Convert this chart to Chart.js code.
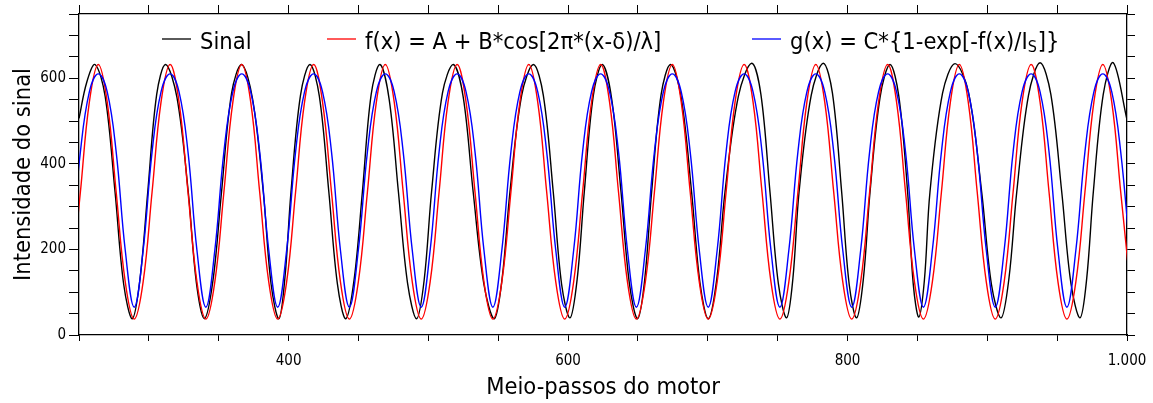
<!DOCTYPE html>
<html lang="pt-BR">
<head>
<meta charset="utf-8">
<title>Sinal e ajustes</title>
<script src="https://cdn.jsdelivr.net/npm/chart.js@4.4.1/dist/chart.umd.min.js"></script>
<style>
  html, body { margin: 0; padding: 0; background: #fff; }
  #wrap { width: 1153px; height: 403px; position: relative; }
</style>
</head>
<body>
<div id="wrap"><canvas id="grafico"></canvas></div>
<script>
const sinalX = [
  250, 255.5, 261.5, 268.7, 275.8, 282, 288.2, 293.7, 299.2, 305.6, 312, 320.1,
  328.2, 334, 339.7, 345.9, 352, 359.2, 366.4, 374.2, 381.9, 387.5, 393.1, 397.4,
  401.7, 408.5, 415.3, 422, 428.8, 434.9, 440.9, 446.9, 452.8, 459.1, 465.4, 472,
  478.6, 485.1, 491.6, 497, 502.3, 510.1, 517.9, 525, 532.1, 539.7, 547.2, 552.8,
  558.4, 566.8, 575.2, 582.3, 589.4, 595.4, 601.4, 606.5, 611.6, 618, 624.5, 631.2,
  637.9, 643.9, 649.8, 654.8, 659.8, 666.6, 673.4, 680.9, 688.4, 694.4, 700.4, 706.4,
  712.3, 721.9, 731.4, 738, 744.5, 750.5, 756.4, 760.9, 765.3, 774, 782.6, 789.2,
  795.8, 801.2, 806.5, 811.3, 816.1, 823.3, 830.4, 836.7, 843, 847, 851, 855,
  859, 868, 876.9, 886.5, 896, 903, 909.9, 915.5, 921.1, 929.5, 937.8, 945.5,
  953.3, 959.9, 966.4, 971.1, 975.9, 983, 990.2, 1000
];
const sinalY = [
  506, 590, 632, 558, 334, 118, 38, 132, 334, 562, 632, 555,
  334, 122, 38, 128, 334, 565, 632, 552, 334, 118, 38, 135,
  334, 560, 632, 558, 334, 120, 38, 130, 334, 562, 632, 550,
  334, 122, 38, 128, 334, 565, 632, 555, 334, 120, 38, 132,
  334, 560, 632, 560, 334, 118, 40, 130, 334, 558, 632, 552,
  334, 120, 38, 128, 334, 562, 632, 556, 334, 122, 38, 130,
  334, 558, 635, 562, 334, 120, 40, 132, 334, 560, 635, 565,
  334, 118, 40, 130, 334, 556, 632, 558, 334, 120, 42, 128,
  334, 565, 634, 568, 334, 118, 40, 132, 334, 560, 636, 562,
  334, 120, 40, 130, 334, 562, 636, 503
];

// curvas ajustadas f(x) e g(x)
const ajusteX = [
  244.5, 251.0, 257.4, 263.8, 270.2, 276.6, 283.1, 289.5,
  295.9, 302.3, 308.7, 315.2, 321.6, 328.0, 334.4, 340.8,
  347.2, 353.7, 360.1, 366.5, 372.9, 379.3, 385.8, 392.2,
  398.6, 405.0, 411.4, 417.9, 424.3, 430.7, 437.1, 443.5,
  449.9, 456.4, 462.8, 469.2, 475.6, 482.0, 488.5, 494.9,
  501.3, 507.7, 514.1, 520.6, 527.0, 533.4, 539.8, 546.2,
  552.6, 559.1, 565.5, 571.9, 578.3, 584.7, 591.2, 597.6,
  604.0, 610.4, 616.8, 623.3, 629.7, 636.1, 642.5, 648.9,
  655.3, 661.8, 668.2, 674.6, 681.0, 687.4, 693.9, 700.3,
  706.7, 713.1, 719.5, 726.0, 732.4, 738.8, 745.2, 751.6,
  758.0, 764.5, 770.9, 777.3, 783.7, 790.1, 796.6, 803.0,
  809.4, 815.8, 822.2, 828.7, 835.1, 841.5, 847.9, 854.3,
  860.7, 867.2, 873.6, 880.0, 886.4, 892.8, 899.3, 905.7,
  912.1, 918.5, 924.9, 931.4, 937.8, 944.2, 950.6, 957.0,
  963.4, 969.9, 976.3, 982.7, 989.1, 995.5, 1002.0
];
const ajusteF = [
  124, 334, 544, 632, 544, 334, 124, 37,
  124, 334, 544, 632, 544, 334, 124, 37,
  124, 334, 544, 632, 544, 334, 124, 37,
  124, 334, 544, 632, 544, 334, 124, 37,
  124, 334, 544, 632, 544, 334, 124, 37,
  124, 334, 544, 632, 544, 334, 124, 37,
  124, 334, 544, 632, 544, 334, 124, 37,
  124, 334, 544, 632, 544, 334, 124, 37,
  124, 334, 544, 632, 544, 334, 124, 37,
  124, 334, 544, 632, 544, 334, 124, 37,
  124, 334, 544, 632, 544, 334, 124, 37,
  124, 334, 544, 632, 544, 334, 124, 37,
  124, 334, 544, 632, 544, 334, 124, 37,
  124, 334, 544, 632, 544, 334, 124, 37,
  124, 334, 544, 632, 544, 334, 124
];
const ajusteG = [
  198, 428, 568, 610, 568, 428, 198, 65,
  198, 428, 568, 610, 568, 428, 198, 65,
  198, 428, 568, 610, 568, 428, 198, 65,
  198, 428, 568, 610, 568, 428, 198, 65,
  198, 428, 568, 610, 568, 428, 198, 65,
  198, 428, 568, 610, 568, 428, 198, 65,
  198, 428, 568, 610, 568, 428, 198, 65,
  198, 428, 568, 610, 568, 428, 198, 65,
  198, 428, 568, 610, 568, 428, 198, 65,
  198, 428, 568, 610, 568, 428, 198, 65,
  198, 428, 568, 610, 568, 428, 198, 65,
  198, 428, 568, 610, 568, 428, 198, 65,
  198, 428, 568, 610, 568, 428, 198, 65,
  198, 428, 568, 610, 568, 428, 198, 65,
  198, 428, 568, 610, 568, 428, 198
];

const legendas = ['Sinal', 'f(x) = A + B*cos[2π*(x-δ)/λ]', 'g(x) = C*{1-exp[-f(x)/I_S]}'];
const cores = ['#000000', '#ff0000', '#0000ff'];
// início de cada item da legenda, medido a partir da borda esquerda do gráfico
const legendaInicio = [83, 248, 673];

const FONTE = "'DejaVu Sans Condensed', 'DejaVu Sans', sans-serif";
Chart.defaults.font.family = FONTE;
Chart.defaults.color = '#000';

function pontos(xs, ys) {
  return xs.map((x, i) => ({ x: x, y: ys[i] }));
}

// 1000 -> "1.000"
function rotulo(v) {
  if (v >= 1000) return Math.floor(v / 1000) + '.' + String(v % 1000).padStart(3, '0');
  return String(v);
}

// legenda dentro da área do gráfico, com subscrito
const legendaInterna = {
  id: 'legendaInterna',
  afterDraw(chart) {
    const ctx = chart.ctx;
    const area = chart.chartArea;
    const yLinha = area.top + 25;
    const yTexto = area.top + 35;
    ctx.save();
    chart.data.datasets.forEach((ds, i) => {
      let x = area.left + legendaInicio[i];
      ctx.strokeStyle = ds.borderColor;
      ctx.lineWidth = 1.3;
      ctx.beginPath();
      ctx.moveTo(x, yLinha);
      ctx.lineTo(x + 29, yLinha);
      ctx.stroke();
      x += 29 + 9;

      ctx.fillStyle = '#000';
      ctx.textBaseline = 'alphabetic';
      ctx.textAlign = 'left';
      const partes = ds.label.split('_');
      ctx.font = '23.5px ' + FONTE;
      ctx.fillText(partes[0], x, yTexto);
      x += ctx.measureText(partes[0]).width;
      if (partes.length > 1) {
        ctx.font = '16px ' + FONTE;
        ctx.fillText(partes[1][0], x, yTexto + 3);
        x += ctx.measureText(partes[1][0]).width + 1;
        ctx.font = '23.5px ' + FONTE;
        ctx.fillText(partes[1].slice(1), x, yTexto);
      }
    });
    ctx.restore();
  }
};

const eixoBorda = { display: true, color: '#000', width: 1.3 };

new Chart(document.getElementById('grafico'), {
  type: 'line',
  data: {
    datasets: [
      { label: legendas[0], data: pontos(sinalX, sinalY), borderColor: cores[0], borderWidth: 1.4, pointRadius: 0, tension: 0.35, order: 3 },
      { label: legendas[1], data: pontos(ajusteX, ajusteF), borderColor: cores[1], borderWidth: 1.4, pointRadius: 0, tension: 0.4, order: 2 },
      { label: legendas[2], data: pontos(ajusteX, ajusteG), borderColor: cores[2], borderWidth: 1.4, pointRadius: 0, tension: 0.4, order: 1 }
    ]
  },
  options: {
    responsive: true,
    maintainAspectRatio: false,
    animation: false,
    layout: { padding: 0 },
    plugins: {
      legend: { display: false },
      tooltip: { enabled: false }
    },
    scales: {
      x: {
        type: 'linear', axis: 'x', position: 'bottom', min: 250, max: 1000,
        ticks: {
          stepSize: 50, autoSkip: false, maxRotation: 0, padding: 11,
          font: { size: 15 },
          callback: v => (v % 200 === 0 ? rotulo(v) : '')
        },
        grid: { drawOnChartArea: false, drawTicks: true, tickLength: 6, color: '#000' },
        border: eixoBorda,
        title: { display: true, text: 'Meio-passos do motor', font: { size: 23.5 }, padding: { top: 0, bottom: 1 } },
        afterFit: s => { s.height = 68; s.paddingLeft = 0; s.paddingRight = 0; }
      },
      xTop: {
        type: 'linear', axis: 'x', position: 'top', min: 250, max: 1000,
        ticks: { stepSize: 50, display: false },
        grid: { drawOnChartArea: false, drawTicks: true, tickLength: 9, color: '#000' },
        border: eixoBorda,
        afterFit: s => { s.height = 14; s.paddingLeft = 0; s.paddingRight = 0; }
      },
      y: {
        type: 'linear', axis: 'y', position: 'left', min: 0, max: 750,
        ticks: {
          stepSize: 50, autoSkip: false, padding: 3,
          font: { size: 15 },
          callback: v => (v % 200 === 0 ? rotulo(v) : '')
        },
        grid: { drawOnChartArea: false, drawTicks: true, tickLength: 10, color: '#000' },
        border: eixoBorda,
        title: { display: true, text: 'Intensidade do sinal', font: { size: 23.5 }, padding: { top: 10, bottom: 0 } },
        afterFit: s => { s.width = 79; s.paddingTop = 0; s.paddingBottom = 0; }
      },
      yRight: {
        type: 'linear', axis: 'y', position: 'right', min: 0, max: 750,
        ticks: { stepSize: 50, display: false },
        grid: { drawOnChartArea: false, drawTicks: true, tickLength: 8, color: '#000' },
        border: eixoBorda,
        afterFit: s => { s.width = 26; s.paddingTop = 0; s.paddingBottom = 0; }
      }
    }
  },
  plugins: [legendaInterna]
});
</script>
</body>
</html>
